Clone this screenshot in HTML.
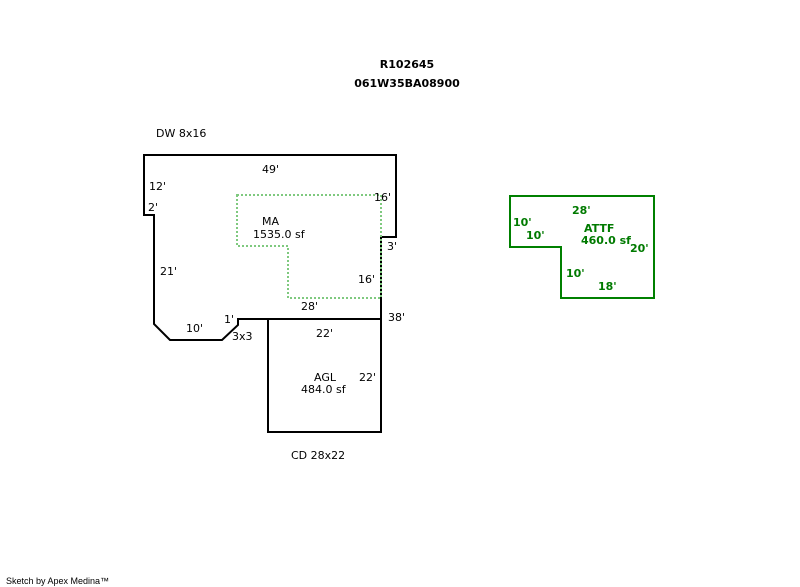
<!DOCTYPE html>
<html><head><meta charset="utf-8"><style>
html,body{margin:0;padding:0;background:#fff;}
svg{display:block;}
text{font-family:"DejaVu Sans","Liberation Sans",sans-serif;font-size:11px;fill:#000;}
.b{font-weight:bold;}
.g{fill:#007a00;font-weight:bold;}
</style></head><body>
<svg width="800" height="587" viewBox="0 0 800 587" xmlns="http://www.w3.org/2000/svg">
<text x="407" y="68" text-anchor="middle" class="b">R102645</text>
<text x="407" y="87" text-anchor="middle" class="b">061W35BA08900</text>
<text x="156" y="137">DW 8x16</text>
<polygon points="144,155 396,155 396,237 381,237 381,319 238,319 238,325 222,340 170,340 154,324 154,215 144,215" fill="none" stroke="#000" stroke-width="2"/>
<rect x="268" y="319" width="113" height="113" fill="none" stroke="#000" stroke-width="2"/>
<polygon points="237,195 381,195 381,298 288,298 288,246 237,246" fill="none" stroke="#7fc97f" stroke-width="2" stroke-dasharray="2,2"/>
<text x="262" y="173">49'</text>
<text x="149" y="190">12'</text>
<text x="148" y="211">2'</text>
<text x="160" y="275">21'</text>
<text x="186" y="332">10'</text>
<text x="224" y="323">1'</text>
<text x="232" y="340">3x3</text>
<text x="374" y="201">16'</text>
<text x="387" y="250">3'</text>
<text x="358" y="283">16'</text>
<text x="301" y="310">28'</text>
<text x="388" y="321">38'</text>
<text x="262" y="225">MA</text>
<text x="253" y="238">1535.0 sf</text>
<text x="316" y="337">22'</text>
<text x="359" y="381">22'</text>
<text x="314" y="381">AGL</text>
<text x="301" y="393">484.0 sf</text>
<text x="291" y="459">CD 28x22</text>
<polygon points="510,196 654,196 654,298 561,298 561,247 510,247" fill="none" stroke="#008000" stroke-width="2"/>
<text x="572" y="214" class="g">28'</text>
<text x="513" y="226" class="g">10'</text>
<text x="526" y="239" class="g">10'</text>
<text x="584" y="232" class="g">ATTF</text>
<text x="581" y="244" class="g">460.0 sf</text>
<text x="630" y="252" class="g">20'</text>
<text x="566" y="277" class="g">10'</text>
<text x="598" y="290" class="g">18'</text>
<text x="6" y="584" style="font-family:'Liberation Sans',sans-serif;font-size:9px">Sketch by Apex Medina™</text>
</svg>
</body></html>
